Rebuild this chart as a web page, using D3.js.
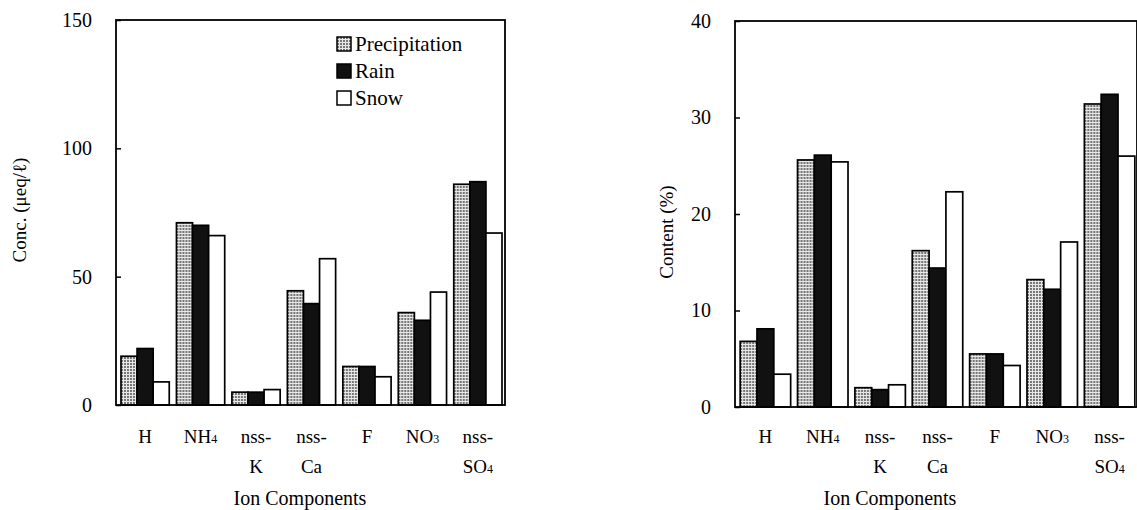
<!DOCTYPE html>
<html>
<head>
<meta charset="utf-8">
<script src="https://cdn.jsdelivr.net/npm/d3@7"></script>
<style>
    body { margin: 0; background: #fff; }
</style>
</head>
<body>
<svg id="chart" width="1137" height="510"></svg>
<script>
// ion components, label lines (digits drawn as subscripts)
var categories = ['H', 'NH4', 'nss-K', 'nss-Ca', 'F', 'NO3', 'nss-SO4'];
var labelLines = [['H'], ['NH4'], ['nss-', 'K'], ['nss-', 'Ca'], ['F'], ['NO3'], ['nss-', 'SO4']];
var seriesNames = ['Precipitation', 'Rain', 'Snow'];

// left: concentration (ueq/l)
var concPrecip = [19, 71, 5, 44.5, 15, 36, 86];
var concRain = [22, 70, 5, 39.5, 15, 33, 87];
var concSnow = [9, 66, 6, 57, 11, 44, 67];
var concTicks = [0, 50, 100, 150];

// right: content (%)
var contPrecip = [6.8, 25.6, 2.0, 16.2, 5.5, 13.2, 31.4];
var contRain = [8.1, 26.1, 1.8, 14.4, 5.5, 12.2, 32.4];
var contSnow = [3.4, 25.4, 2.3, 22.3, 4.3, 17.1, 26.0];
var contTicks = [0, 10, 20, 30, 40];

var FONT = "'Liberation Serif', 'Times New Roman', serif";
var svg = d3.select('#chart');

// grey grid texture for precipitation bars
var defs = svg.append('defs');
var pat = defs.append('pattern')
    .attr('id', 'grid')
    .attr('patternUnits', 'userSpaceOnUse')
    .attr('width', 3)
    .attr('height', 3);
pat.append('rect').attr('width', 3).attr('height', 3).attr('fill', '#e8e8e8');
pat.append('rect').attr('width', 2).attr('height', 2).attr('fill', '#777');

var fills = { Precipitation: 'url(#grid)', Rain: '#111', Snow: '#fff' };

function drawPanel(opt) {
    var g = svg.append('g');
    var x0 = d3.scaleBand()
        .domain(categories)
        .range(opt.band)
        .paddingInner(opt.pin)
        .paddingOuter(opt.pout);
    var x1 = d3.scaleBand()
        .domain(seriesNames)
        .range([0, x0.bandwidth()]);
    var y = d3.scaleLinear()
        .domain([0, opt.max])
        .range(opt.yRange);

    var rows = categories.map(function(c, i) {
        return seriesNames.map(function(s, j) {
            return { cat: c, name: s, value: opt.values[j][i] };
        });
    });

    g.selectAll('g.grp')
        .data(rows)
        .join('g')
        .attr('class', 'grp')
        .attr('transform', function(d, i) { return 'translate(' + x0(categories[i]) + ',0)'; })
        .selectAll('rect')
        .data(function(d) { return d; })
        .join('rect')
        .attr('x', function(d) { return x1(d.name); })
        .attr('y', function(d) { return y(d.value); })
        .attr('width', x1.bandwidth())
        .attr('height', function(d) { return y(0) - y(d.value); })
        .attr('fill', function(d) { return fills[d.name]; })
        .attr('stroke', '#000')
        .attr('stroke-width', 1.7);

    // frame
    g.append('rect')
        .attr('x', opt.frame[0])
        .attr('y', y(opt.max))
        .attr('width', opt.frame[1] - opt.frame[0])
        .attr('height', y(0) - y(opt.max))
        .attr('fill', 'none')
        .attr('stroke', '#000')
        .attr('stroke-width', 1.8);

    var axis = g.append('g')
        .attr('transform', 'translate(' + opt.frame[0] + ',0)')
        .call(d3.axisLeft(y).tickValues(opt.ticks).tickSizeInner(-5).tickSizeOuter(0).tickPadding(24));
    axis.select('.domain').remove();
    axis.selectAll('line').attr('stroke', '#000').attr('stroke-width', 1.5);
    axis.selectAll('text').attr('fill', '#000').style('font-size', '20px');

    // category labels
    var lab = g.selectAll('text.cat')
        .data(categories)
        .join('text')
        .attr('class', 'cat')
        .attr('text-anchor', 'middle')
        .style('font-size', '19px')
        .attr('x', function(d) { return x0(d) + x0.bandwidth() / 2; })
        .attr('y', 443);
    lab.each(function(d, i) {
        var t = d3.select(this);
        labelLines[i].forEach(function(line, k) {
            var parts = line.match(/[^0-9]+|[0-9]+/g);
            parts.forEach(function(p, m) {
                var ts = t.append('tspan').text(p);
                if (m === 0) {
                    ts.attr('x', x0(d) + x0.bandwidth() / 2).attr('dy', k === 0 ? 0 : 30);
                }
                if (/[0-9]/.test(p)) {
                    ts.style('font-size', '12px');
                }
            });
        });
    });

    g.append('text')
        .attr('x', opt.xTitle[0])
        .attr('y', opt.xTitle[1])
        .attr('text-anchor', 'middle')
        .style('font-size', '20px')
        .text('Ion Components');

    g.append('text')
        .attr('transform', 'translate(' + opt.yTitle[0] + ',' + opt.yTitle[1] + ') rotate(-90)')
        .attr('text-anchor', 'middle')
        .style('font-size', '19px')
        .text(opt.yLabel);

    return { x0: x0, y: y, g: g };
}

var left = drawPanel({
    values: [concPrecip, concRain, concSnow],
    max: 150,
    ticks: concTicks,
    band: [116, 507],
    pin: 0.13,
    pout: 0.09,
    frame: [116, 505],
    yRange: [405, 20],
    xTitle: [300, 505],
    yTitle: [26, 210],
    yLabel: 'Conc. (\u03bceq/\u2113)'
});

drawPanel({
    values: [contPrecip, contRain, contSnow],
    max: 40,
    ticks: contTicks,
    band: [735, 1140],
    pin: 0.12,
    pout: 0.09,
    frame: [735, 1137],
    yRange: [407, 21],
    xTitle: [890, 505],
    yTitle: [673, 232],
    yLabel: 'Content (%)'
});

// legend (left panel only)
var legend = left.g.append('g').attr('transform', 'translate(337,37)');
var item = legend.selectAll('g')
    .data(seriesNames)
    .join('g')
    .attr('transform', function(d, i) { return 'translate(0,' + (i * 27) + ')'; });
item.append('rect')
    .attr('width', 14)
    .attr('height', 14)
    .attr('fill', function(d) { return fills[d]; })
    .attr('stroke', '#000')
    .attr('stroke-width', 1.5);
item.append('text')
    .attr('x', 18)
    .attr('y', 14)
    .style('font-size', '21px')
    .text(function(d) { return d; });

// one serif face for every label
svg.selectAll('text').style('font-family', FONT);
</script>
</body>
</html>
